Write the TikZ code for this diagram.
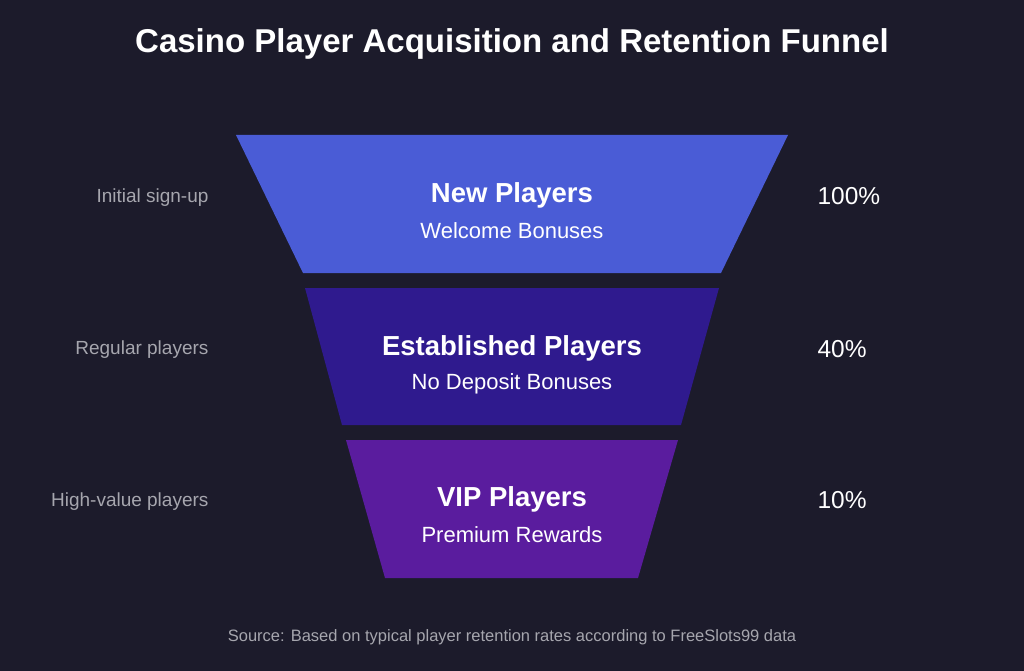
\documentclass[tikz,border=0pt]{standalone}
\usepackage{fontspec}
\setmainfont{Liberation Sans}
\definecolor{bgdark}{HTML}{1C1B2B}
\definecolor{stageone}{HTML}{4A5CD6}
\definecolor{stagetwo}{HTML}{2F1A8E}
\definecolor{stagethree}{HTML}{5A1C9E}
\definecolor{sidegray}{HTML}{A6A6AE}
\tikzset{
  stagehead/.style={text=white, font=\fontsize{27.5}{32}\selectfont\bfseries},
  stagesub/.style={text=white, font=\fontsize{22}{26}\selectfont},
  sidelabel/.style={text=sidegray, anchor=east, font=\fontsize{19}{22}\selectfont},
  pctlabel/.style={text=white, anchor=west, font=\fontsize{24.5}{28}\selectfont}
}
\begin{document}
\begin{tikzpicture}[x=1pt, y=-1pt]
\fill[bgdark] (0,0) rectangle (1024,671);
\useasboundingbox (0,0) rectangle (1024,671);
\node[text=white, font=\fontsize{33}{38}\selectfont\bfseries] (title) at (512,44) {Casino Player Acquisition and Retention Funnel};
% funnel stages
\fill[stageone] (236,135) -- (788,135) -- (721,273) -- (303,273) -- cycle;
\fill[stagetwo] (305,288) -- (719,288) -- (681,425) -- (342,425) -- cycle;
\fill[stagethree] (346,440) -- (678,440) -- (638,578) -- (385,578) -- cycle;
\node[stagehead] (new) at (512,195) {New Players};
\node[stagesub] (newsub) at (512,231) {Welcome Bonuses};
\node[stagehead] (est) at (512,348) {Established Players};
\node[stagesub] (estsub) at (512,384) {No Deposit Bonuses};
\node[stagehead] (vip) at (512,499) {VIP Players};
\node[stagesub] (vipsub) at (512,535) {Premium Rewards};
% side labels
\node[sidelabel] (signup) at (212,198) {Initial sign-up};
\node[sidelabel] (regular) at (212,350) {Regular players};
\node[sidelabel] (highval) at (212,502) {High-value players};
\node[pctlabel] (pctnew) at (814,196) {100\%};
\node[pctlabel] (pctest) at (814,349) {40\%};
\node[pctlabel] (pctvip) at (814,500) {10\%};
\node[text=sidegray, font=\fontsize{16.5}{20}\selectfont] (source) at (512,637) {Source: Based on typical player retention rates according to FreeSlots99 data};
\end{tikzpicture}
\end{document}
